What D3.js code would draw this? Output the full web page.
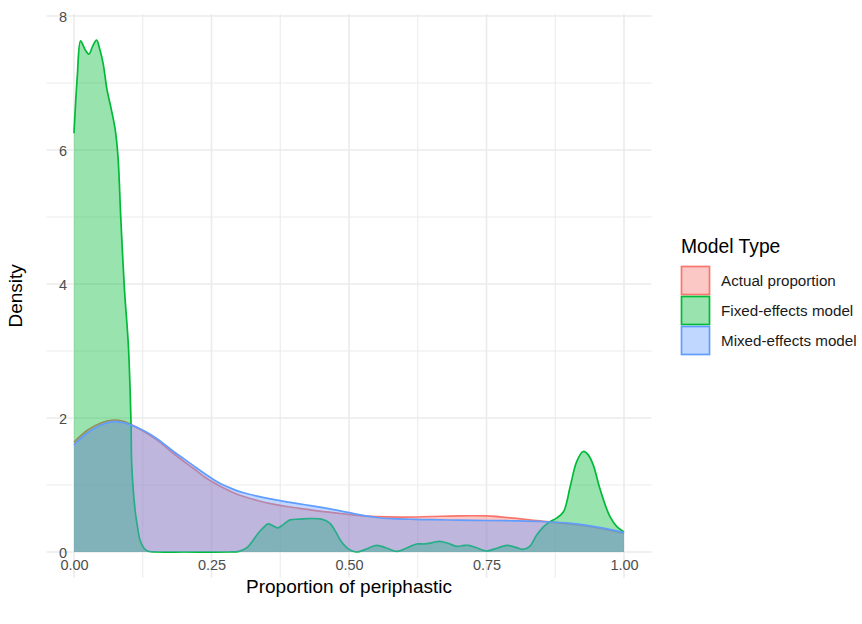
<!DOCTYPE html>
<html><head><meta charset="utf-8">
<script src="https://cdn.jsdelivr.net/npm/d3@7/dist/d3.min.js"></script>
<style>body{margin:0;background:#fff}svg{display:block}text{font-family:"Liberation Sans",Arial,sans-serif}</style>
</head><body><svg id="c" width="862" height="624"></svg>
<script>
const categories = ["Actual proportion", "Fixed-effects model", "Mixed-effects model"];
const colors = ["#F8766D", "#00BA38", "#619CFF"];
const xTicks = [0, 0.25, 0.5, 0.75, 1];
const xTickLabels = ["0.00", "0.25", "0.50", "0.75", "1.00"];
const yTicks = [0, 2, 4, 6, 8];

const actualX = [0,0.025,0.05,0.072,0.09,0.105,0.12,0.14,0.156,0.181,0.2,0.217,0.241,0.265,0.29,0.31,0.335,0.362,0.39,0.42,0.45,0.484,0.51,0.55,0.6,0.65,0.7,0.75,0.8,0.85,0.9,0.94,0.97,1.0];
const actualY = [1.64,1.82,1.93,1.97,1.95,1.90,1.83,1.73,1.64,1.47,1.35,1.25,1.10,0.985,0.885,0.825,0.765,0.715,0.675,0.64,0.605,0.575,0.55,0.527,0.52,0.53,0.54,0.538,0.505,0.46,0.42,0.38,0.335,0.28];

const fixedX = [0,0.006,0.012,0.02,0.027,0.034,0.041,0.047,0.053,0.06,0.068,0.075,0.08,0.085,0.0915,0.099,0.1036,0.105,0.111,0.116,0.12,0.127,0.135,0.15,0.2,0.28,0.3,0.315,0.326,0.336,0.344,0.353,0.362,0.371,0.382,0.393,0.41,0.43,0.45,0.465,0.476,0.484,0.494,0.502,0.514,0.53,0.55,0.568,0.587,0.605,0.623,0.638,0.652,0.665,0.68,0.696,0.707,0.717,0.733,0.75,0.77,0.787,0.803,0.816,0.828,0.841,0.853,0.865,0.878,0.89,0.902,0.914,0.926,0.935,0.944,0.956,0.966,0.975,0.987,1.0];
const fixedY = [6.25,7.1,7.63,7.5,7.43,7.55,7.64,7.5,7.29,6.9,6.6,6.3,5.9,5.0,3.95,3.06,1.95,1.3,0.63,0.35,0.18,0.06,0.01,0,0,0,0.01,0.07,0.18,0.29,0.36,0.42,0.39,0.36,0.42,0.48,0.49,0.50,0.49,0.43,0.30,0.18,0.08,0.03,0.0,0.04,0.10,0.06,0.01,0.06,0.12,0.12,0.14,0.16,0.13,0.085,0.095,0.10,0.06,0.015,0.06,0.10,0.07,0.04,0.08,0.25,0.37,0.45,0.51,0.6,0.97,1.35,1.50,1.45,1.30,0.95,0.70,0.52,0.38,0.30];

const mixedX = [0,0.025,0.05,0.0715,0.09,0.105,0.12,0.14,0.156,0.181,0.2,0.217,0.241,0.265,0.29,0.31,0.335,0.362,0.39,0.42,0.45,0.484,0.51,0.53,0.55,0.58,0.62,0.65,0.7,0.75,0.8,0.85,0.9,0.938,0.97,1.0];
const mixedY = [1.60,1.78,1.90,1.945,1.93,1.89,1.84,1.75,1.66,1.50,1.39,1.29,1.15,1.025,0.935,0.88,0.83,0.785,0.745,0.705,0.665,0.615,0.57,0.54,0.515,0.497,0.487,0.482,0.476,0.47,0.465,0.455,0.43,0.39,0.345,0.29];

const series = [
  {name: categories[0], xs: actualX, ys: actualY, color: colors[0]},
  {name: categories[1], xs: fixedX, ys: fixedY, color: colors[1]},
  {name: categories[2], xs: mixedX, ys: mixedY, color: colors[2]}
];

const svg = d3.select("#c");
const x = d3.scaleLinear().domain([-0.05, 1.05]).range([46.5, 651.5]);
const y = d3.scaleLinear().domain([0, 8]).range([552, 16]);
const yTop = y(8.03), yBot = y(-0.3825);

const g = svg.append("g");
const xMinor = [0.125, 0.375, 0.625, 0.875];
const yMinor = [1, 3, 5, 7];
g.selectAll(".xm").data(xMinor).enter().append("line")
  .attr("x1", d => x(d)).attr("x2", d => x(d)).attr("y1", yTop).attr("y2", yBot)
  .attr("stroke", "#EBEBEB").attr("stroke-width", 1.1);
g.selectAll(".ym").data(yMinor).enter().append("line")
  .attr("y1", d => y(d)).attr("y2", d => y(d)).attr("x1", x(-0.05)).attr("x2", x(1.05))
  .attr("stroke", "#EBEBEB").attr("stroke-width", 1.1);
g.selectAll(".xM").data(xTicks).enter().append("line")
  .attr("x1", d => x(d)).attr("x2", d => x(d)).attr("y1", yTop).attr("y2", yBot)
  .attr("stroke", "#EBEBEB").attr("stroke-width", 1.6);
g.selectAll(".yM").data(yTicks).enter().append("line")
  .attr("y1", d => y(d)).attr("y2", d => y(d)).attr("x1", x(-0.05)).attr("x2", x(1.05))
  .attr("stroke", "#EBEBEB").attr("stroke-width", 1.6);

const curve = d3.curveCatmullRom.alpha(0.5);
const area = d3.area().x(d => x(d[0])).y0(y(0)).y1(d => y(Math.max(0, d[1]))).curve(curve);
const line = d3.line().x(d => x(d[0])).y(d => y(d[1])).curve(curve);

const defs = svg.append("defs");
defs.append("clipPath").attr("id", "clipPos").append("rect")
  .attr("x", 0).attr("y", 0).attr("width", 862).attr("height", y(0) + 1);

series.forEach(s => {
  const pts = s.xs.map((v, i) => [v, s.ys[i]]);
  const sg = g.append("g").attr("clip-path", "url(#clipPos)");
  sg.append("path").attr("d", area(pts)).attr("fill", s.color).attr("fill-opacity", 0.4);
  sg.append("path").attr("d", line(pts)).attr("fill", "none").attr("stroke", s.color).attr("stroke-width", 1.7);
});

const xAxis = d3.axisBottom(x).tickValues(xTicks).tickFormat((d, i) => xTickLabels[i]).tickSize(0).tickPadding(0);
const xa = svg.append("g").attr("transform", "translate(0,0)").call(xAxis);
xa.select(".domain").remove();
xa.selectAll("text").attr("font-size", 14.5).attr("fill", "#4D4D4D").attr("dy", null).attr("y", 569.5)
  .attr("font-family", "Liberation Sans, Arial, sans-serif");

const yAxis = d3.axisLeft(y).tickValues(yTicks).tickFormat(d3.format("d")).tickSize(0).tickPadding(0);
const ya = svg.append("g").attr("transform", "translate(67,0)").call(yAxis);
ya.select(".domain").remove();
ya.selectAll("text").attr("font-size", 14.5).attr("fill", "#4D4D4D").attr("x", 0).attr("dy", "0.36em")
  .attr("font-family", "Liberation Sans, Arial, sans-serif");

svg.append("text").attr("x", (x(-0.05) + x(1.05)) / 2).attr("y", 593).attr("text-anchor", "middle")
  .attr("font-size", 19).attr("fill", "#000").text("Proportion of periphastic");
svg.append("text").attr("transform", `translate(21.5,${(yTop + yBot) / 2}) rotate(-90)`).attr("text-anchor", "middle")
  .attr("font-size", 19).attr("fill", "#000").text("Density");

const lg = svg.append("g");
lg.append("text").attr("x", 681).attr("y", 253).attr("font-size", 19.3).attr("fill", "#000").text("Model Type");
series.forEach((s, i) => {
  const yy = 266 + i * 30;
  lg.append("rect").attr("x", 681.5).attr("y", yy + 0.5).attr("width", 28).attr("height", 28)
    .attr("fill", s.color).attr("fill-opacity", 0.4).attr("stroke", s.color).attr("stroke-width", 1.7);
  lg.append("text").attr("x", 721).attr("y", yy + 14.5).attr("dy", "0.36em").attr("font-size", 15.2)
    .attr("fill", "#1a1a1a").text(s.name);
});
</script></body></html>
